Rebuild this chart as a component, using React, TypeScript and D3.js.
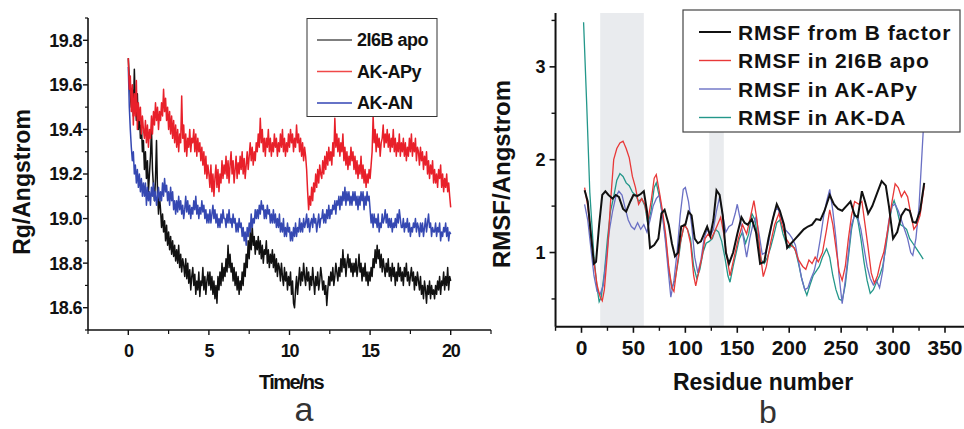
import React from 'react';
import * as d3 from 'd3';

// ---------- Panel a: Rg vs time (16 samples per ns, 0..20 ns) ----------
const TIME_END = 20;
const rg2I6Bapo = [
  19.72,19.62,19.55,19.50,19.58,19.46,19.67,19.52,19.44,19.56,19.40,19.48,19.36,19.42,19.30,19.35,
  19.22,19.30,19.18,19.26,19.12,19.20,19.28,19.40,19.22,19.14,19.08,19.18,19.35,19.12,19.02,19.10,
  19.04,18.96,19.02,18.94,18.99,18.90,18.97,18.88,18.94,18.86,18.92,18.84,18.90,18.83,18.88,18.81,
  18.86,18.80,18.88,18.78,18.84,18.76,18.82,18.79,18.74,18.82,18.73,18.80,18.71,18.77,18.68,18.74,
  18.78,18.70,18.75,18.66,18.72,18.68,18.76,18.65,18.72,18.70,18.78,18.68,18.74,18.66,18.72,18.76,
  18.70,18.76,18.68,18.74,18.66,18.72,18.64,18.70,18.62,18.74,18.68,18.76,18.70,18.80,18.72,18.78,
  18.74,18.82,18.76,18.88,18.78,18.84,18.76,18.80,18.72,18.78,18.70,18.76,18.68,18.74,18.66,18.72,
  18.68,18.76,18.70,18.80,18.74,18.84,18.78,18.90,18.82,18.94,18.86,18.97,18.88,18.92,18.84,18.90,
  18.86,18.92,18.84,18.90,18.82,18.88,18.80,18.86,18.84,18.90,18.80,18.86,18.78,18.84,18.80,18.86,
  18.78,18.84,18.76,18.82,18.74,18.80,18.78,18.72,18.80,18.74,18.70,18.78,18.72,18.76,18.68,18.74,
  18.70,18.76,18.66,18.72,18.62,18.60,18.68,18.74,18.66,18.72,18.78,18.70,18.76,18.72,18.80,18.74,
  18.70,18.78,18.72,18.76,18.68,18.74,18.70,18.78,18.72,18.66,18.74,18.70,18.76,18.68,18.72,18.78,
  18.74,18.68,18.72,18.66,18.70,18.61,18.68,18.74,18.70,18.76,18.72,18.78,18.70,18.74,18.80,18.76,
  18.72,18.78,18.74,18.82,18.76,18.86,18.78,18.82,18.74,18.80,18.84,18.78,18.82,18.76,18.80,18.74,
  18.80,18.76,18.82,18.74,18.78,18.84,18.76,18.80,18.72,18.78,18.74,18.80,18.72,18.76,18.70,18.76,
  18.72,18.78,18.74,18.82,18.78,18.86,18.80,18.88,18.82,18.86,18.78,18.84,18.76,18.82,18.78,18.74,
  18.80,18.76,18.82,18.74,18.78,18.72,18.80,18.74,18.78,18.70,18.76,18.72,18.80,18.74,18.78,18.72,
  18.76,18.70,18.78,18.74,18.80,18.72,18.76,18.70,18.74,18.78,18.72,18.76,18.68,18.74,18.70,18.76,
  18.72,18.68,18.74,18.66,18.70,18.64,18.72,18.68,18.62,18.70,18.66,18.72,18.64,18.70,18.66,18.68,
  18.64,18.70,18.66,18.72,18.68,18.74,18.66,18.72,18.70,18.76,18.68,18.74,18.70,18.78,18.68,18.74,
  18.72,
];
const rgAKAPy = [
  19.72,19.58,19.64,19.48,19.60,19.42,19.56,19.46,19.62,19.40,19.52,19.44,19.50,19.38,19.46,19.40,
  19.36,19.44,19.34,19.42,19.32,19.40,19.36,19.46,19.38,19.48,19.42,19.52,19.44,19.50,19.40,19.48,
  19.44,19.52,19.46,19.58,19.48,19.54,19.44,19.50,19.40,19.48,19.38,19.46,19.36,19.44,19.34,19.42,
  19.32,19.40,19.30,19.38,19.34,19.55,19.36,19.42,19.30,19.38,19.28,19.36,19.32,19.40,19.30,19.36,
  19.34,19.40,19.30,19.38,19.28,19.36,19.30,19.34,19.26,19.32,19.24,19.30,19.20,19.28,19.18,19.24,
  19.20,19.14,19.24,19.12,19.20,19.10,19.18,19.24,19.14,19.22,19.12,19.20,19.16,19.26,19.18,19.24,
  19.20,19.28,19.18,19.26,19.16,19.24,19.30,19.20,19.26,19.16,19.22,19.28,19.18,19.25,19.20,19.28,
  19.22,19.30,19.20,19.27,19.18,19.24,19.30,19.22,19.28,19.34,19.26,19.32,19.24,19.30,19.26,19.34,
  19.30,19.38,19.32,19.45,19.34,19.40,19.30,19.36,19.28,19.36,19.32,19.40,19.30,19.36,19.28,19.34,
  19.30,19.38,19.32,19.36,19.28,19.34,19.30,19.38,19.32,19.40,19.30,19.36,19.28,19.34,19.30,19.38,
  19.32,19.40,19.34,19.38,19.30,19.36,19.32,19.42,19.34,19.38,19.30,19.36,19.28,19.34,19.26,19.32,
  19.28,19.22,19.12,19.04,19.10,19.06,19.14,19.08,19.16,19.12,19.20,19.14,19.22,19.16,19.24,19.20,
  19.18,19.26,19.20,19.28,19.22,19.30,19.24,19.32,19.26,19.30,19.24,19.34,19.28,19.45,19.32,19.38,
  19.30,19.36,19.28,19.34,19.30,19.38,19.26,19.32,19.24,19.30,19.22,19.28,19.24,19.32,19.26,19.30,
  19.22,19.28,19.20,19.26,19.18,19.24,19.20,19.28,19.18,19.24,19.16,19.22,19.14,19.20,19.16,19.22,
  19.18,19.24,19.30,19.46,19.34,19.40,19.30,19.38,19.32,19.36,19.28,19.34,19.36,19.42,19.32,19.38,
  19.34,19.40,19.32,19.38,19.30,19.36,19.32,19.40,19.30,19.36,19.28,19.34,19.30,19.38,19.28,19.34,
  19.30,19.36,19.28,19.34,19.26,19.32,19.28,19.36,19.30,19.38,19.28,19.34,19.30,19.36,19.26,19.32,
  19.30,19.24,19.32,19.26,19.30,19.22,19.28,19.24,19.30,19.20,19.26,19.18,19.24,19.20,19.26,19.16,
  19.22,19.16,19.20,19.14,19.22,19.18,19.24,19.14,19.20,19.12,19.18,19.14,19.20,19.12,19.16,19.10,
  19.05,
];
const rgAKAN = [
  19.68,19.50,19.40,19.32,19.26,19.30,19.20,19.24,19.16,19.22,19.14,19.20,19.12,19.18,19.10,19.16,
  19.10,19.16,19.06,19.14,19.08,19.12,19.06,19.14,19.10,19.16,19.08,19.12,19.06,19.10,19.14,19.08,
  19.12,19.08,19.16,19.10,19.18,19.12,19.15,19.08,19.12,19.06,19.14,19.08,19.12,19.04,19.08,19.02,
  19.08,19.03,19.10,19.04,19.08,19.02,19.06,19.00,19.04,19.10,19.03,19.08,19.02,19.06,19.00,19.05,
  19.02,19.08,19.04,19.10,19.02,19.06,19.00,19.05,19.02,19.08,19.03,19.06,19.00,19.04,18.98,19.02,
  18.98,19.04,18.98,19.02,19.06,19.00,19.04,18.98,19.02,18.96,19.00,18.96,19.02,18.98,19.04,19.00,
  19.00,18.96,19.02,18.98,19.04,18.98,19.00,18.96,19.02,18.98,19.00,18.94,18.98,18.94,19.00,18.96,
  18.98,18.92,18.96,18.90,18.94,18.88,18.96,18.92,18.98,18.94,19.02,18.96,19.00,18.98,19.04,19.00,
  19.04,19.00,19.06,19.02,19.08,19.04,19.06,19.00,19.04,19.00,19.06,19.02,19.04,18.98,19.02,18.98,
  19.04,18.98,19.02,18.96,19.00,18.96,19.02,18.94,18.98,18.94,19.00,18.92,18.96,18.92,18.98,18.94,
  18.96,18.90,18.94,18.90,18.96,18.92,18.98,18.92,18.96,18.94,19.00,18.94,18.98,18.94,19.00,18.96,
  18.98,19.02,18.96,19.00,18.94,18.98,19.00,18.96,19.02,18.98,19.00,18.94,18.98,19.02,18.96,19.00,
  19.00,19.04,18.98,19.02,18.98,19.04,19.00,19.06,19.00,19.04,19.02,19.06,19.04,19.08,19.02,19.08,
  19.06,19.10,19.04,19.10,19.06,19.12,19.08,19.14,19.06,19.12,19.08,19.12,19.06,19.10,19.06,19.12,
  19.08,19.12,19.06,19.10,19.04,19.10,19.06,19.12,19.08,19.12,19.04,19.10,19.06,19.12,19.08,19.10,
  19.04,18.98,19.02,18.96,19.02,18.98,19.00,18.96,19.02,18.94,18.98,18.96,19.02,18.98,19.00,19.04,
  18.98,19.02,18.96,19.00,18.96,19.00,18.94,18.98,18.96,19.00,18.96,19.02,18.98,19.04,19.00,18.96,
  18.96,19.00,18.94,18.98,18.96,19.00,18.94,18.98,18.92,18.96,18.94,18.98,18.96,19.00,18.94,18.98,
  18.96,18.92,18.98,18.94,18.98,18.92,18.96,19.00,18.94,18.98,19.02,18.96,18.98,18.92,18.96,18.94,
  18.94,18.98,18.92,18.96,18.94,18.98,18.90,18.94,18.92,18.96,18.94,18.98,18.92,18.96,18.90,18.94,
  18.93,
];
const leftSeriesNames = ['2I6B apo', 'AK-APy', 'AK-AN'];
const leftXTicks = [0, 5, 10, 15, 20];
const leftXMinor = [-2.5, 2.5, 7.5, 12.5, 17.5, 22.5];
const leftYTicks = [18.6, 18.8, 19.0, 19.2, 19.4, 19.6, 19.8];
const leftYMinor = [18.5, 18.7, 18.9, 19.1, 19.3, 19.5, 19.7, 19.9];

// ---------- Panel b: RMSF vs residue ----------
const rmsfBFactor: [number, number][] = [
  [3,1.67],[6,1.55],[9,1.2],[12,0.88],[14,0.9],[17,1.3],[20,1.62],[23,1.66],[26,1.62],[30,1.58],
  [33,1.62],[36,1.6],[40,1.47],[43,1.44],[47,1.55],[50,1.62],[54,1.61],[57,1.63],[60,1.66],[63,1.45],
  [66,1.05],[70,1.08],[74,1.15],[77,1.42],[80,1.46],[84,1.3],[87,1.1],[90,0.96],[93,1.0],[96,1.28],
  [100,1.3],[103,1.44],[106,1.4],[109,1.15],[112,1.1],[115,1.12],[118,1.2],[121,1.28],[124,1.18],[127,1.35],
  [130,1.67],[133,1.62],[136,1.4],[139,1.0],[142,0.88],[146,1.0],[150,1.2],[154,1.38],[157,1.32],[160,1.3],
  [164,1.36],[168,1.22],[172,0.88],[176,0.9],[180,1.15],[184,1.35],[188,1.52],[191,1.45],[195,1.3],[198,1.05],
  [202,1.1],[206,1.15],[210,1.2],[214,1.25],[218,1.28],[222,1.3],[226,1.36],[230,1.35],[234,1.45],[239,1.62],
  [243,1.52],[247,1.47],[251,1.45],[255,1.5],[259,1.55],[263,1.4],[266,1.38],[270,1.66],[273,1.55],[276,1.42],
  [280,1.5],[284,1.62],[289,1.77],[293,1.72],[296,1.5],[300,1.15],[304,1.22],[308,1.4],[312,1.47],[316,1.45],
  [319,1.33],[322,1.32],[326,1.45],[330,1.75],
];
const rmsf2I6Bapo: [number, number][] = [
  [3,1.7],[6,1.5],[9,1.2],[12,0.9],[15,0.65],[18,0.52],[20,0.48],[22,0.6],[25,1.0],[28,1.55],
  [31,2.0],[34,2.12],[37,2.18],[40,2.2],[43,2.12],[46,2.02],[49,1.82],[52,1.7],[55,1.52],[58,1.58],
  [61,1.52],[64,1.35],[67,1.55],[70,1.8],[72,1.84],[75,1.65],[78,1.45],[81,1.2],[84,0.85],[87,0.62],
  [89,0.58],[92,0.85],[95,1.1],[99,1.3],[102,1.25],[105,1.1],[108,0.75],[110,0.64],[113,0.8],[116,0.95],
  [119,1.15],[122,1.2],[125,1.15],[128,1.22],[131,1.3],[134,1.38],[137,1.2],[140,0.95],[143,0.75],[147,0.95],
  [151,1.15],[155,1.3],[159,1.2],[163,1.4],[166,1.56],[169,1.35],[172,1.0],[175,0.74],[178,0.85],[182,1.1],
  [186,1.3],[190,1.42],[193,1.3],[197,1.15],[201,1.08],[205,1.05],[209,0.92],[213,0.85],[216,0.82],[219,0.92],
  [222,0.88],[225,0.95],[228,0.9],[232,1.0],[236,1.25],[239,1.46],[242,1.3],[245,1.05],[248,0.8],[251,0.7],
  [254,0.85],[257,1.15],[260,1.4],[263,1.55],[267,1.52],[270,1.55],[273,1.3],[276,1.05],[279,0.78],[282,0.67],
  [285,0.75],[288,0.9],[291,1.0],[295,1.25],[299,1.55],[302,1.74],[305,1.7],[308,1.6],[311,1.66],[314,1.6],
  [317,1.42],[320,1.25],[323,1.3],[326,1.4],[330,1.72],
];
const rmsfAKAPy: [number, number][] = [
  [3,1.52],[6,1.35],[9,1.05],[12,0.75],[15,0.58],[18,0.55],[21,0.65],[24,0.95],[27,1.25],[30,1.45],
  [33,1.6],[36,1.66],[39,1.62],[42,1.48],[45,1.35],[48,1.28],[51,1.25],[54,1.32],[57,1.25],[60,1.3],
  [63,1.22],[66,1.35],[69,1.5],[72,1.58],[75,1.62],[78,1.4],[81,1.1],[84,0.75],[86,0.52],[89,0.7],
  [92,1.0],[95,1.4],[98,1.68],[100,1.7],[103,1.55],[106,1.3],[109,0.95],[112,0.78],[115,0.92],[118,1.15],
  [121,1.25],[124,1.18],[127,1.25],[130,1.45],[133,1.6],[136,1.4],[139,1.22],[142,1.28],[145,1.3],[148,1.42],
  [150,1.52],[153,1.35],[156,1.15],[159,0.95],[162,1.15],[165,1.3],[168,1.38],[171,1.2],[174,0.98],[177,1.0],
  [180,1.1],[183,1.3],[186,1.45],[189,1.48],[192,1.38],[196,1.25],[200,1.2],[203,1.15],[206,1.08],[209,0.9],
  [212,0.72],[215,0.6],[218,0.62],[221,0.72],[224,0.8],[227,0.95],[230,1.15],[233,1.38],[236,1.55],[239,1.68],
  [242,1.45],[245,1.15],[248,0.75],[251,0.45],[254,0.7],[257,1.0],[260,1.3],[263,1.4],[266,1.38],[269,1.25],
  [272,1.05],[275,0.85],[278,0.72],[281,0.65],[284,0.7],[287,0.62],[290,0.8],[293,1.1],[296,1.35],[299,1.5],
  [302,1.52],[305,1.45],[308,1.35],[311,1.25],[314,1.15],[317,1.0],[319,0.97],[322,1.15],[325,1.5],[328,2.1],
  [331,2.7],
];
const rmsfAKDA: [number, number][] = [
  [2,3.48],[5,2.6],[8,1.65],[10,1.3],[12,0.95],[15,0.62],[17,0.47],[19,0.52],[22,0.78],[25,1.15],
  [28,1.45],[31,1.6],[34,1.78],[37,1.85],[40,1.82],[43,1.75],[46,1.72],[49,1.65],[52,1.62],[55,1.55],
  [58,1.58],[61,1.5],[64,1.3],[67,1.45],[70,1.7],[72,1.75],[75,1.6],[78,1.4],[81,1.15],[84,0.82],
  [87,0.62],[90,0.7],[93,0.9],[96,1.15],[99,1.3],[102,1.25],[105,1.15],[108,0.85],[111,0.72],[114,0.82],
  [117,1.0],[120,1.1],[123,1.12],[126,1.15],[129,1.25],[132,1.22],[135,1.12],[138,0.95],[141,0.75],[143,0.68],
  [146,0.85],[149,1.0],[152,1.15],[155,1.22],[158,1.1],[161,1.2],[164,1.42],[167,1.35],[170,1.15],[173,0.92],
  [176,0.88],[179,0.95],[182,1.05],[185,1.18],[188,1.32],[191,1.35],[194,1.2],[197,1.1],[200,1.05],[203,1.08],
  [206,1.02],[209,0.88],[212,0.72],[215,0.6],[217,0.54],[220,0.65],[223,0.75],[226,0.8],[229,0.85],[232,0.95],
  [236,1.04],[239,0.95],[242,0.75],[245,0.6],[248,0.5],[251,0.48],[254,0.65],[257,0.95],[260,1.25],[263,1.42],
  [266,1.35],[269,1.15],[272,0.9],[275,0.7],[278,0.56],[281,0.6],[284,0.68],[287,0.75],[290,0.85],[293,1.05],
  [296,1.3],[299,1.5],[301,1.56],[304,1.45],[307,1.3],[310,1.28],[313,1.25],[316,1.15],[319,1.1],[322,1.05],
  [325,1.0],[329,0.93],
];
const rightSeriesNames = ['RMSF from B factor', 'RMSF in 2I6B apo', 'RMSF in AK-APy', 'RMSF in AK-DA'];
const shadedRegions: [number, number][] = [[18, 60], [123, 137]];
const rightXTicks = [0, 50, 100, 150, 200, 250, 300, 350];
const rightXMinor = [-25, 25, 75, 125, 175, 225, 275, 325, 375];
const rightYTicks = [1, 2, 3];
const rightYMinor = [0.5, 1.5, 2.5, 3.5];

const FONT = '"Liberation Sans", Arial, Helvetica, sans-serif';

export default function App() {
  // panel a scales
  const lx = d3.scaleLinear([-2.5, 22.5], [88, 491]);
  const ly = d3.scaleLinear([18.5, 19.9], [330, 18]);
  const lLine = (vals: number[]) => {
    const t = d3.scaleLinear([0, vals.length - 1], [0, TIME_END]);
    return d3.line<number>().x((_, i) => lx(t(i))).y((d) => ly(d))(vals) || '';
  };

  // panel b scales
  const rx = d3.scaleLinear([0, 350], [581.5, 945]);
  const ry = d3.scaleLinear([0.2, 3.58], [326.8, 13]);
  const rLine = d3.line<[number, number]>().x((d) => rx(d[0])).y((d) => ry(d[1]));

  const leftColors = ['#111111', '#e8202a', '#3548b2'];
  const leftLegendColors = ['#555555', '#f04848', '#3344b5'];
  const rightColors = ['#111111', '#e83838', '#6a70c4', '#23978a'];

  const lxMin = lx(-2.5), lxMax = lx(22.5);
  const rxMin = rx(-25), rxMax = rx(375);

  return (
    <svg width={964} height={429} viewBox="0 0 964 429"
      style={{ position: 'absolute', left: 0, top: 0, background: '#fff' }}
      fontFamily={FONT}>
      <rect x={0} y={0} width={964} height={429} fill="#fff" />

      {/* ================= Panel a ================= */}
      <g>
        <path d={lLine(rg2I6Bapo)} fill="none" stroke={leftColors[0]} strokeWidth={1.5} strokeLinejoin="round" />
        <path d={lLine(rgAKAN)} fill="none" stroke={leftColors[2]} strokeWidth={1.5} strokeLinejoin="round" />
        <path d={lLine(rgAKAPy)} fill="none" stroke={leftColors[1]} strokeWidth={1.5} strokeLinejoin="round" />

        <line x1={lxMin} x2={lxMin} y1={ly(19.9)} y2={ly(18.5)} stroke="#111" strokeWidth={1.6} />
        <line x1={lxMin} x2={lxMax} y1={ly(18.5)} y2={ly(18.5)} stroke="#111" strokeWidth={1.6} />
        {leftYTicks.map((t) => (
          <g key={'ly' + t}>
            <line x1={lxMin - 5} x2={lxMin} y1={ly(t)} y2={ly(t)} stroke="#111" strokeWidth={1.4} />
            <text x={lxMin - 6} y={ly(t)} dy="0.36em" textAnchor="end" fontSize={18}
              fontWeight="bold" letterSpacing={-0.6} fill="#111">{t.toFixed(1)}</text>
          </g>
        ))}
        {leftYMinor.map((t) => (
          <line key={'lym' + t} x1={lxMin - 3} x2={lxMin} y1={ly(t)} y2={ly(t)} stroke="#111" strokeWidth={1.2} />
        ))}
        {leftXTicks.map((t) => (
          <g key={'lx' + t}>
            <line x1={lx(t)} x2={lx(t)} y1={ly(18.5)} y2={ly(18.5) + 5} stroke="#111" strokeWidth={1.4} />
            <text x={lx(t)} y={357} textAnchor="middle" fontSize={18} fontWeight="bold"
              letterSpacing={-1.2} fill="#111">{t}</text>
          </g>
        ))}
        {leftXMinor.map((t) => (
          <line key={'lxm' + t} x1={lx(t)} x2={lx(t)} y1={ly(18.5)} y2={ly(18.5) + 4} stroke="#111" strokeWidth={1.2} />
        ))}

        <text transform="translate(30,182) rotate(-90)" textAnchor="middle" fontSize={23}
          fontWeight="bold" fill="#111">Rg/Angstrom</text>
        <text x={291} y={389} textAnchor="middle" fontSize={20} fontWeight="bold"
          letterSpacing={-1.6} fill="#111">Time/ns</text>
        <text x={304} y={421} textAnchor="middle" fontSize={34} fill="#333">a</text>

        <rect x={307} y={18.5} width={130} height={98} fill="#fff" stroke="#333" strokeWidth={1} />
        {leftSeriesNames.map((name, i) => (
          <g key={name}>
            <line x1={317} x2={352} y1={40 + i * 31.5} y2={40 + i * 31.5} stroke={leftLegendColors[i]} strokeWidth={1.3} />
            <text x={357} y={40 + i * 31.5} dy="0.36em" fontSize={18} fontWeight="bold"
              letterSpacing={-0.5} fill="#111">{name}</text>
          </g>
        ))}
      </g>

      {/* ================= Panel b ================= */}
      <g>
        {shadedRegions.map(([a, b]) => (
          <rect key={'sh' + a} x={rx(a)} width={rx(b) - rx(a)} y={ry(3.58)} height={ry(0.2) - ry(3.58)}
            fill="#e9ebee" />
        ))}

        <path d={rLine(rmsfAKDA) || ''} fill="none" stroke={rightColors[3]} strokeWidth={1.3} />
        <path d={rLine(rmsfAKAPy) || ''} fill="none" stroke={rightColors[2]} strokeWidth={1.3} />
        <path d={rLine(rmsf2I6Bapo) || ''} fill="none" stroke={rightColors[1]} strokeWidth={1.3} />
        <path d={rLine(rmsfBFactor) || ''} fill="none" stroke={rightColors[0]} strokeWidth={2} />

        <line x1={rxMin} x2={rxMin} y1={ry(3.58)} y2={ry(0.2)} stroke="#111" strokeWidth={2} />
        <line x1={rxMin} x2={rxMax} y1={ry(0.2)} y2={ry(0.2)} stroke="#111" strokeWidth={2} />
        {rightYTicks.map((t) => (
          <g key={'ry' + t}>
            <line x1={rxMin - 6} x2={rxMin} y1={ry(t)} y2={ry(t)} stroke="#111" strokeWidth={1.6} />
            <text x={rxMin - 10} y={ry(t)} dy="0.36em" textAnchor="end" fontSize={18}
              fontWeight="bold" fill="#111">{t}</text>
          </g>
        ))}
        {rightYMinor.map((t) => (
          <line key={'rym' + t} x1={rxMin - 4} x2={rxMin} y1={ry(t)} y2={ry(t)} stroke="#111" strokeWidth={1.4} />
        ))}
        {rightXTicks.map((t) => (
          <g key={'rx' + t}>
            <line x1={rx(t)} x2={rx(t)} y1={ry(0.2)} y2={ry(0.2) + 6} stroke="#111" strokeWidth={1.6} />
            <text x={rx(t)} y={355} textAnchor="middle" fontSize={21} fontWeight="bold" fill="#111">{t}</text>
          </g>
        ))}
        {rightXMinor.map((t) => (
          <line key={'rxm' + t} x1={rx(t)} x2={rx(t)} y1={ry(0.2)} y2={ry(0.2) + 4} stroke="#111" strokeWidth={1.4} />
        ))}

        <text transform="translate(510,174) rotate(-90)" textAnchor="middle" fontSize={24}
          fontWeight="bold" fill="#111">RMSF/Angstrom</text>
        <text x={763} y={390} textAnchor="middle" fontSize={23} fontWeight="bold" fill="#111">Residue number</text>
        <text x={768} y={423} textAnchor="middle" fontSize={32} fill="#333">b</text>

        <rect x={683} y={10} width={277} height={122} fill="#fff" stroke="#444" strokeWidth={1.2} />
        {rightSeriesNames.map((name, i) => (
          <g key={name}>
            <line x1={699} x2={731} y1={32 + i * 28.5} y2={32 + i * 28.5} stroke={rightColors[i]}
              strokeWidth={i === 0 ? 2 : 1.4} />
            <text x={738} y={32 + i * 28.5} dy="0.36em" fontSize={21} fontWeight="bold"
              letterSpacing={0.9} fill="#111">{name}</text>
          </g>
        ))}
      </g>
    </svg>
  );
}
